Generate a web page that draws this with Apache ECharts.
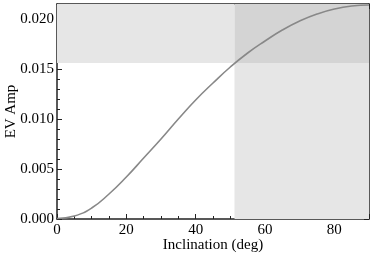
<!DOCTYPE html>
<html>
<head>
<meta charset="utf-8">
<script src="https://cdn.jsdelivr.net/npm/echarts@6/dist/echarts.min.js"></script>
<style>html,body{margin:0;padding:0;background:#fff}#c{width:374px;height:257px}</style>
</head>
<body>
<div id="c"></div>
<script>
const inclination = [0,5,10,15,20,25,30,35,40,45,50,55,60,65,70,75,80,85,90];
const evAmp = [0.00005,0.0003,0.0011,0.0025,0.0042,0.0061,0.0080,0.0100,0.0119,0.0136,0.0152,0.0166,0.0178,0.0189,0.0198,0.0205,0.0210,0.0213,0.0214];
const xTicks = [0,20,40,60,80];
const yTicks = [0.000,0.005,0.010,0.015,0.020];
const xRange = [0,90];
const yRange = [0,0.0215];
const thresholdX = 51.2;
const thresholdY = 0.0156;

const font = 'Liberation Serif';
const frame = '#222222';
function axisBase(){
  return {
    axisLine:{show:true,onZero:false,lineStyle:{color:frame,width:1.5}},
    axisTick:{show:true,inside:true,length:5,lineStyle:{color:frame,width:1}},
    splitLine:{show:false},
    minorSplitLine:{show:false}
  };
}
const chart = echarts.init(document.getElementById('c'),null,{renderer:'canvas'});
chart.setOption({
  animation:false,
  backgroundColor:'#ffffff',
  grid:{left:57,right:5,top:4,bottom:38,containLabel:false,outerBoundsMode:'none'},
  xAxis:[
    Object.assign(axisBase(),{type:'value',position:'bottom',min:xRange[0],max:xRange[1],interval:20,
      minorTick:{show:true,splitNumber:4,length:3,lineStyle:{color:frame,width:1}},
      name:'Inclination (deg)',nameLocation:'middle',nameGap:19,nameMoveOverlap:false,
      nameTextStyle:{fontFamily:font,fontSize:15,color:'#000'},
      axisLabel:{fontFamily:font,fontSize:15,color:'#000',margin:4,showMaxLabel:false,
        formatter:v=>xTicks.includes(v)?String(v):''}}),
    Object.assign(axisBase(),{type:'value',position:'top',min:xRange[0],max:xRange[1],interval:20,
      minorTick:{show:true,splitNumber:4,length:3,lineStyle:{color:frame,width:1}},
      axisLabel:{show:false}})
  ],
  yAxis:[
    Object.assign(axisBase(),{type:'value',position:'left',min:yRange[0],max:yRange[1],interval:0.005,
      minorTick:{show:true,splitNumber:5,length:3,lineStyle:{color:frame,width:1}},
      name:'EV Amp',nameLocation:'middle',nameGap:38,nameRotate:90,nameMoveOverlap:false,
      nameTextStyle:{fontFamily:font,fontSize:15,color:'#000'},
      axisLabel:{fontFamily:font,fontSize:15,color:'#000',margin:3,showMaxLabel:false,
        formatter:v=>{const t=yTicks.find(y=>Math.abs(y-v)<1e-9);return t===undefined?'':t.toFixed(3);}}}),
    Object.assign(axisBase(),{type:'value',position:'right',min:yRange[0],max:yRange[1],interval:0.005,
      minorTick:{show:true,splitNumber:5,length:3,lineStyle:{color:frame,width:1}},
      axisLabel:{show:false}})
  ],
  series:[{
    type:'line',
    xAxisIndex:0,yAxisIndex:0,
    data:inclination.map((x,i)=>[x,evAmp[i]]),
    smooth:true,
    showSymbol:false,
    lineStyle:{color:'#888888',width:1.6},
    markArea:{
      silent:true,
      data:[
        [{coord:[xRange[0],thresholdY],itemStyle:{color:'#e6e6e6'}},{coord:[thresholdX,yRange[1]]}],
        [{coord:[thresholdX,yRange[0]],itemStyle:{color:'#e6e6e6'}},{coord:[xRange[1],thresholdY]}],
        [{coord:[thresholdX,thresholdY],itemStyle:{color:'#d4d4d4'}},{coord:[xRange[1],yRange[1]]}]
      ]
    }
  }]
});
</script>
</body>
</html>
